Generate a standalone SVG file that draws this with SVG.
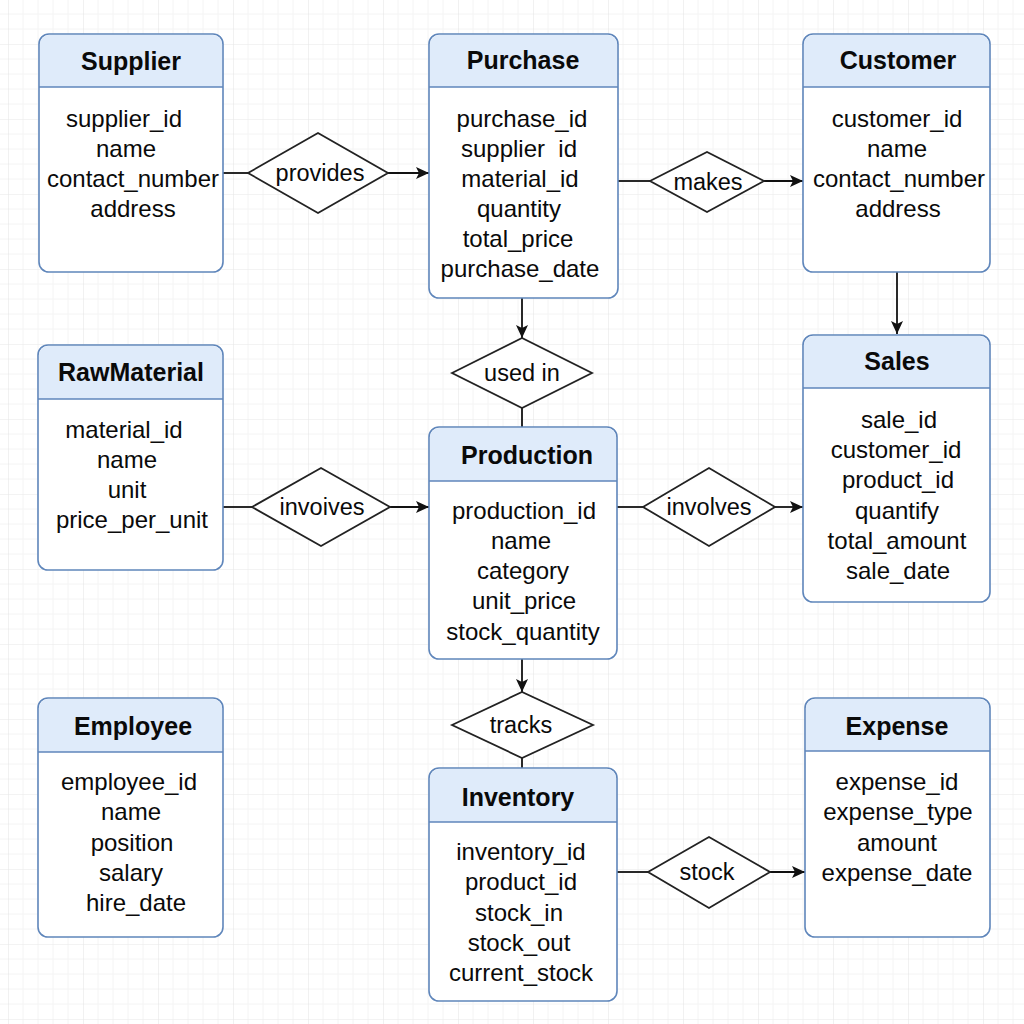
<svg xmlns="http://www.w3.org/2000/svg" width="1024" height="1024" viewBox="0 0 1024 1024">
<style>
.box{fill:#ffffff;stroke:#5f86bb;stroke-width:1.6}
.hdr{fill:#dfebfa;stroke:none}
.sep{stroke:#5f86bb;stroke-width:1.4}
.title{font-family:"Liberation Sans",Arial,sans-serif;font-size:25px;font-weight:bold;fill:#0a0a0a;text-anchor:middle}
.attr{font-family:"Liberation Sans",Arial,sans-serif;font-size:24px;fill:#0a0a0a;text-anchor:middle;white-space:pre}
.rel{fill:#ffffff;stroke:#222;stroke-width:1.8}
.rlabel{font-family:"Liberation Sans",Arial,sans-serif;font-size:23.5px;fill:#0a0a0a;text-anchor:middle}
.conn{stroke:#111;stroke-width:1.8;fill:none}
</style>
<defs>
<pattern id="grid" x="8" y="44" width="75" height="75" patternUnits="userSpaceOnUse">
<path d="M15 0V75M30 0V75M45 0V75M60 0V75M0 15H75M0 30H75M0 45H75M0 60H75" stroke="#f4f4f4" stroke-width="1"/>
<path d="M0 0V75M0 0H75" stroke="#e7e7e7" stroke-width="1.2"/>
</pattern>
<marker id="arr" markerUnits="userSpaceOnUse" markerWidth="14" markerHeight="12" refX="13" refY="6" orient="auto">
<path d="M0 0L13 6L0 12L3 6Z" fill="#111"/>
</marker>
</defs>
<rect width="1024" height="1024" fill="#ffffff"/>
<rect width="1024" height="1024" fill="url(#grid)"/>

<g id="connectors">
<path class="conn" d="M223 173H248"/>
<path class="conn" d="M388 173H429" marker-end="url(#arr)"/>
<path class="conn" d="M618 181H650"/>
<path class="conn" d="M764 181H803" marker-end="url(#arr)"/>
<path class="conn" d="M897 272V334" marker-end="url(#arr)"/>
<path class="conn" d="M522 298V338" marker-end="url(#arr)"/>
<path class="conn" d="M522 408V427"/>
<path class="conn" d="M223 507H252"/>
<path class="conn" d="M390 507H429" marker-end="url(#arr)"/>
<path class="conn" d="M617 507H643"/>
<path class="conn" d="M775 507H803" marker-end="url(#arr)"/>
<path class="conn" d="M522 659V692" marker-end="url(#arr)"/>
<path class="conn" d="M522 758V768"/>
<path class="conn" d="M617 872H648"/>
<path class="conn" d="M770 872H805" marker-end="url(#arr)"/>
</g>

<g id="Supplier">
<rect class="box" x="39" y="34" width="184" height="238" rx="10"/>
<path class="hdr" d="M40 87V44a9 9 0 0 1 9-9H213a9 9 0 0 1 9 9V87Z"/>
<line class="sep" x1="39" y1="87" x2="223" y2="87"/>
<text class="title" x="131" y="70">Supplier</text>
<text class="attr" x="124" y="127">supplier_id</text>
<text class="attr" x="126" y="157">name</text>
<text class="attr" x="133" y="187">contact_number</text>
<text class="attr" x="133" y="217">address</text>
</g>

<g id="Purchase">
<rect class="box" x="429" y="34" width="189" height="264" rx="10"/>
<path class="hdr" d="M430 87V44a9 9 0 0 1 9-9H608a9 9 0 0 1 9 9V87Z"/>
<line class="sep" x1="429" y1="87" x2="618" y2="87"/>
<text class="title" x="523" y="69">Purchase</text>
<text class="attr" x="522" y="127">purchase_id</text>
<text class="attr" x="519" y="157">supplier  id</text>
<text class="attr" x="520" y="187">material_id</text>
<text class="attr" x="519" y="217">quantity</text>
<text class="attr" x="518" y="247">total_price</text>
<text class="attr" x="520" y="277">purchase_date</text>
</g>

<g id="Customer">
<rect class="box" x="803" y="34" width="187" height="238" rx="10"/>
<path class="hdr" d="M804 87V44a9 9 0 0 1 9-9H980a9 9 0 0 1 9 9V87Z"/>
<line class="sep" x1="803" y1="87" x2="990" y2="87"/>
<text class="title" x="898" y="69">Customer</text>
<text class="attr" x="897" y="127">customer_id</text>
<text class="attr" x="897" y="157">name</text>
<text class="attr" x="899" y="187">contact_number</text>
<text class="attr" x="898" y="217">address</text>
</g>

<g id="RawMaterial">
<rect class="box" x="38" y="345" width="185" height="225" rx="10"/>
<path class="hdr" d="M39 399V355a9 9 0 0 1 9-9H213a9 9 0 0 1 9 9V399Z"/>
<line class="sep" x1="38" y1="399" x2="223" y2="399"/>
<text class="title" x="131" y="381">RawMaterial</text>
<text class="attr" x="124" y="438">material_id</text>
<text class="attr" x="127" y="468">name</text>
<text class="attr" x="127" y="498">unit</text>
<text class="attr" x="132" y="528">price_per_unit</text>
</g>

<g id="Production">
<rect class="box" x="429" y="427" width="188" height="232" rx="10"/>
<path class="hdr" d="M430 481V437a9 9 0 0 1 9-9H607a9 9 0 0 1 9 9V481Z"/>
<line class="sep" x1="429" y1="481" x2="617" y2="481"/>
<text class="title" x="527" y="464">Production</text>
<text class="attr" x="524" y="519">production_id</text>
<text class="attr" x="521" y="549">name</text>
<text class="attr" x="523" y="579">category</text>
<text class="attr" x="524" y="609">unit_price</text>
<text class="attr" x="523" y="640">stock_quantity</text>
</g>

<g id="Sales">
<rect class="box" x="803" y="335" width="187" height="267" rx="10"/>
<path class="hdr" d="M804 388V345a9 9 0 0 1 9-9H980a9 9 0 0 1 9 9V388Z"/>
<line class="sep" x1="803" y1="388" x2="990" y2="388"/>
<text class="title" x="897" y="370">Sales</text>
<text class="attr" x="899" y="428">sale_id</text>
<text class="attr" x="896" y="458">customer_id</text>
<text class="attr" x="898" y="488">product_id</text>
<text class="attr" x="897" y="519">quantify</text>
<text class="attr" x="897" y="549">total_amount</text>
<text class="attr" x="898" y="579">sale_date</text>
</g>

<g id="Employee">
<rect class="box" x="38" y="698" width="185" height="239" rx="10"/>
<path class="hdr" d="M39 752V708a9 9 0 0 1 9-9H213a9 9 0 0 1 9 9V752Z"/>
<line class="sep" x1="38" y1="752" x2="223" y2="752"/>
<text class="title" x="133" y="735">Employee</text>
<text class="attr" x="129" y="790">employee_id</text>
<text class="attr" x="131" y="820">name</text>
<text class="attr" x="132" y="851">position</text>
<text class="attr" x="131" y="881">salary</text>
<text class="attr" x="136" y="911">hire_date</text>
</g>

<g id="Inventory">
<rect class="box" x="429" y="768" width="188" height="233" rx="10"/>
<path class="hdr" d="M430 822V778a9 9 0 0 1 9-9H607a9 9 0 0 1 9 9V822Z"/>
<line class="sep" x1="429" y1="822" x2="617" y2="822"/>
<text class="title" x="518" y="806">Inventory</text>
<text class="attr" x="521" y="860">inventory_id</text>
<text class="attr" x="521" y="890">product_id</text>
<text class="attr" x="519" y="921">stock_in</text>
<text class="attr" x="519" y="951">stock_out</text>
<text class="attr" x="521" y="981">current_stock</text>
</g>

<g id="Expense">
<rect class="box" x="805" y="698" width="185" height="239" rx="10"/>
<path class="hdr" d="M806 751V708a9 9 0 0 1 9-9H980a9 9 0 0 1 9 9V751Z"/>
<line class="sep" x1="805" y1="751" x2="990" y2="751"/>
<text class="title" x="897" y="735">Expense</text>
<text class="attr" x="897" y="790">expense_id</text>
<text class="attr" x="898" y="820">expense_type</text>
<text class="attr" x="897" y="851">amount</text>
<text class="attr" x="897" y="881">expense_date</text>
</g>

<g id="provides">
<polygon class="rel" points="248,173 318,133 388,173 318,213"/>
<text class="rlabel" x="320" y="181">provides</text>
</g>
<g id="makes">
<polygon class="rel" points="650,181 707,152 764,181 707,212"/>
<text class="rlabel" x="708" y="190">makes</text>
</g>
<g id="used_in">
<polygon class="rel" points="452,373 522,338 592,373 522,408"/>
<text class="rlabel" x="522" y="381">used in</text>
</g>
<g id="invoives">
<polygon class="rel" points="252,507 321,468 390,507 321,546"/>
<text class="rlabel" x="322" y="515">invoives</text>
</g>
<g id="involves">
<polygon class="rel" points="643,507 709,468 775,507 709,546"/>
<text class="rlabel" x="709" y="515">involves</text>
</g>
<g id="tracks">
<polygon class="rel" points="452,725 522,692 593,725 522,758"/>
<text class="rlabel" x="521" y="733">tracks</text>
</g>
<g id="stock">
<polygon class="rel" points="648,872 709,837 770,872 709,908"/>
<text class="rlabel" x="707" y="880">stock</text>
</g>
</svg>
